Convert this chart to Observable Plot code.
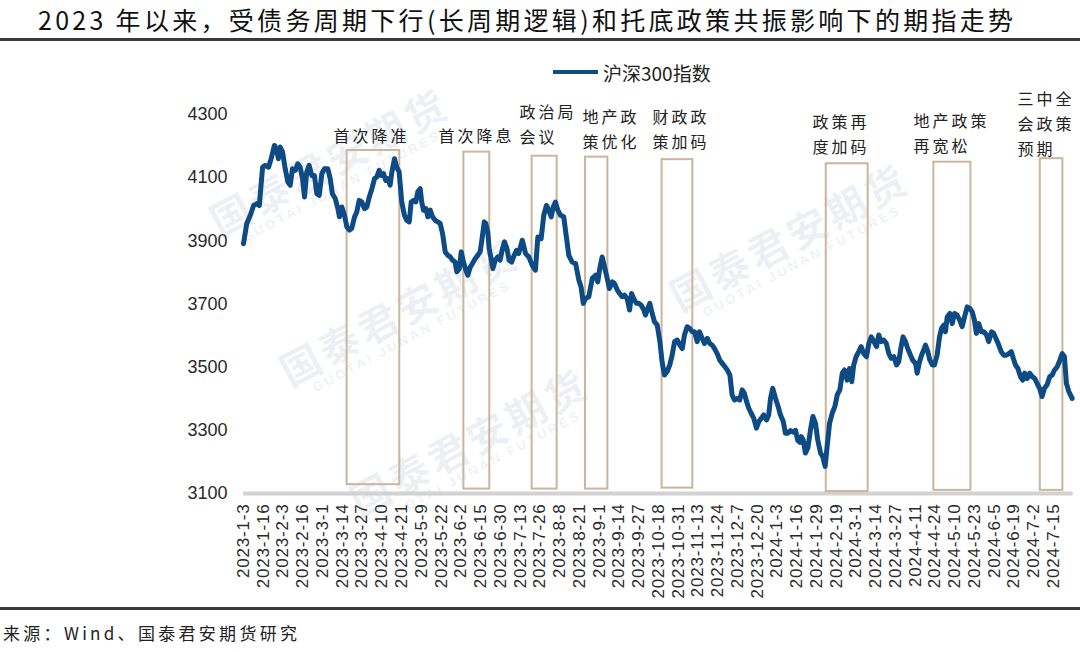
<!DOCTYPE html>
<html><head><meta charset="utf-8">
<script src="https://cdn.jsdelivr.net/npm/d3@7"></script>
<script src="https://cdn.jsdelivr.net/npm/@observablehq/plot@0.6"></script>
<style>
html,body{margin:0;padding:0;background:#fff;}
body{width:1080px;height:652px;position:relative;overflow:hidden;font-family:"Noto Sans CJK SC","Noto Sans",sans-serif;}
#title{position:absolute;left:38px;top:1px;font-size:25px;letter-spacing:3.3px;color:#111;white-space:nowrap;line-height:36px;}
.rule{position:absolute;left:0;width:1080px;height:3px;background:#3a3a3a;}
#legend{position:absolute;left:553px;top:58px;height:28px;display:flex;align-items:center;font-size:19px;color:#222;white-space:nowrap;}
#legend .sw{width:45px;height:4px;background:#0e4a84;margin-right:5px;}
#chart{position:absolute;left:0;top:45px;}
#source{position:absolute;left:3px;top:620px;font-size:17px;letter-spacing:3.3px;color:#222;white-space:nowrap;}
.wm{position:absolute;transform:rotate(-28deg);transform-origin:center;color:rgba(110,140,180,0.13);text-align:center;white-space:nowrap;line-height:1;}
.wm b{display:block;font-size:40px;font-weight:700;letter-spacing:4px;}
.wm i{display:block;font-style:normal;font-size:13px;letter-spacing:3px;font-family:"Liberation Sans",sans-serif;font-weight:700;margin-top:2px;}
</style></head>
<body>
<div class="wm" style="left:200px;top:140px"><b>国泰君安期货</b><i>GUOTAI JUNAN FUTURES</i></div>
<div class="wm" style="left:270px;top:290px"><b>国泰君安期货</b><i>GUOTAI JUNAN FUTURES</i></div>
<div class="wm" style="left:660px;top:215px"><b>国泰君安期货</b><i>GUOTAI JUNAN FUTURES</i></div>
<div class="wm" style="left:340px;top:420px"><b>国泰君安期货</b><i>GUOTAI JUNAN FUTURES</i></div>
<div id="title">2023 年以来，受债务周期下行(长周期逻辑)和托底政策共振影响下的期指走势</div>
<div class="rule" style="top:38px"></div>
<div id="legend"><div class="sw"></div><span>沪深300指数</span></div>
<div id="chart"></div>
<div class="rule" style="top:607px"></div>
<div id="source">来源：Wind、国泰君安期货研究</div>
<script>
// x-axis category labels (one every 9 trading days)
const tickLabels = ["2023-1-3","2023-1-16","2023-2-3","2023-2-16","2023-3-1","2023-3-14","2023-3-27","2023-4-10","2023-4-21","2023-5-9","2023-5-22","2023-6-2","2023-6-15","2023-6-30","2023-7-13","2023-7-26","2023-8-8","2023-8-21","2023-9-1","2023-9-14","2023-9-27","2023-10-18","2023-10-31","2023-11-13","2023-11-24","2023-12-7","2023-12-20","2024-1-3","2024-1-16","2024-1-29","2024-2-19","2024-3-1","2024-3-14","2024-3-27","2024-4-11","2024-4-24","2024-5-10","2024-5-23","2024-6-5","2024-6-19","2024-7-2","2024-7-15"];
const tickStep = 9;
const yTicks = [3100,3300,3500,3700,3900,4100,4300];

// CSI 300 series: trading-day index since 2023-1-3, close
const day = [0,1.5,3.1,4.6,6.1,7.2,8.7,9.9,11.4,12.6,14.1,15.2,15.9,16.7,17.8,19.0,20.2,21.3,22.3,23.6,24.7,25.8,26.9,27.8,28.8,29.9,31.1,32.3,33.4,34.5,35.7,36.9,38.4,39.5,40.5,41.8,43.0,43.7,44.8,46.0,47.1,48.3,49.3,50.6,51.6,52.7,53.9,55.1,56.2,57.3,58.5,59.7,60.7,61.8,62.7,63.8,64.8,65.7,66.8,67.6,68.8,69.8,70.9,72.1,73.3,74.4,75.5,76.4,77.4,78.5,79.4,80.5,81.2,82.0,83.1,84.0,85.1,86.1,87.3,88.5,89.6,90.7,91.9,93.1,94.2,95.2,96.4,97.2,98.3,99.2,100.2,101.3,102.2,103.3,104.3,105.6,106.7,107.8,108.6,109.7,110.4,111.3,111.9,112.8,113.6,114.7,115.9,116.9,118.0,118.9,120.0,121.0,122.2,123.1,124.4,125.4,127.0,128.5,130.0,131.5,133.0,134.1,135.6,136.8,138.0,139.1,140.2,141.1,142.1,143.2,144.4,145.9,147.2,148.2,149.7,151.3,152.8,153.8,154.8,155.8,157.3,158.9,160.4,161.4,162.3,163.4,164.5,165.7,166.7,168.0,169.0,170.3,171.4,172.5,173.6,174.8,175.9,176.8,177.8,179.0,180.1,181.2,182.4,183.1,184.2,185.1,186.2,187.2,188.5,189.7,190.7,191.8,193.0,194.2,195.3,196.4,197.6,198.8,199.9,200.9,202.1,203.3,204.4,205.5,206.7,207.7,209.0,210.0,211.3,212.4,213.5,214.6,215.8,217.0,218.1,219.3,220.4,221.6,222.6,223.7,224.9,226.1,227.2,228.2,229.2,230.2,231.3,232.5,233.7,234.8,235.9,237.0,238.3,239.3,240.1,241.1,242.4,243.6,244.6,245.9,246.9,248.0,249.2,250.4,251.5,252.5,253.5,254.1,255.0,256.0,257.1,258.3,259.4,260.6,261.6,262.9,263.9,265.0,265.9,267.0,268.2,269.4,270.5,271.7,272.8,273.8,275.0,276.1,277.1,278.0,279.1,280.3,281.4,282.6,283.8,284.9,286.0,287.2,288.4,289.4,290.5,291.7,292.9,294.0,295.1,296.3,297.5,298.5,299.6,300.5,301.6,302.6,303.9,304.9,306.2,306.9,308.0,308.9,309.9,310.7,311.8,312.7,313.8,314.8,316.0,317.1,318.0,319.0,319.8,320.6,321.8,322.9,323.9,325.1,326.3,327.4,328.5,329.7,330.9,332.0,333.0,333.9,335.0,336.1,337.3,338.5,339.5,340.8,341.8,343.1,344.1,345.2,346.4,347.6,348.7,349.8,350.7,351.7,352.8,354.0,355.0,355.9,357.0,358.2,359.3,360.5,361.5,362.7,363.8,364.9,366.1,367.3,368.4,369.5,370.7,371.9,373.0,374.0,374.9,376.0,377.5];
const close = [3891,3955,3981,4012,4018,4012,4133,4139,4133,4160,4202,4186,4160,4197,4181,4128,4086,4076,4128,4123,4144,4133,4097,4039,4118,4139,4107,4107,4049,4044,4113,4128,4128,4097,4049,4034,4002,3976,4007,3981,3944,3934,3939,3976,3991,4028,4023,4002,4007,4039,4065,4097,4102,4123,4107,4113,4091,4097,4076,4118,4160,4133,4118,4023,3981,3965,3960,4023,4028,4023,4055,4065,4023,3997,4002,3976,3997,3976,3965,3960,3955,3923,3865,3854,3849,3839,3833,3802,3812,3865,3833,3807,3791,3817,3828,3844,3854,3865,3902,3960,3955,3928,3876,3844,3812,3839,3849,3839,3876,3897,3876,3839,3833,3851,3870,3860,3902,3860,3849,3823,3807,3912,3907,3981,4012,3997,3976,4007,4023,3997,3981,3976,3907,3854,3833,3828,3775,3754,3702,3717,3723,3781,3791,3770,3812,3849,3817,3781,3749,3770,3765,3744,3733,3723,3728,3717,3681,3733,3717,3702,3702,3696,3681,3665,3686,3702,3670,3644,3633,3581,3517,3475,3486,3507,3538,3581,3586,3570,3559,3602,3628,3623,3612,3612,3581,3612,3591,3575,3591,3575,3570,3559,3543,3522,3512,3501,3491,3475,3412,3396,3401,3396,3428,3417,3391,3370,3354,3338,3307,3328,3338,3349,3333,3349,3401,3433,3401,3375,3349,3328,3291,3291,3299,3294,3300,3268,3262,3280,3270,3228,3244,3301,3344,3322,3270,3228,3217,3186,3249,3322,3354,3375,3412,3428,3481,3491,3459,3496,3454,3507,3533,3549,3565,3543,3533,3575,3596,3581,3565,3602,3581,3586,3575,3543,3528,3533,3507,3517,3565,3596,3581,3559,3538,3522,3512,3481,3517,3538,3554,3570,3549,3522,3507,3507,3538,3596,3623,3633,3612,3659,3670,3638,3670,3665,3649,3628,3659,3691,3686,3675,3649,3607,3638,3612,3612,3602,3581,3612,3607,3586,3570,3549,3538,3538,3543,3549,3528,3507,3496,3470,3459,3481,3464,3481,3470,3464,3449,3433,3407,3433,3444,3470,3475,3491,3501,3522,3543,3533,3449,3423,3401];

// policy windows (trading-day index) and box extent (index level)
const boxStart  = [47.2, 100.4, 131.5, 155.8, 190.7, 265.5, 314.5, 363.0];
const boxEnd    = [71.2, 112.2, 142.9, 166.0, 204.7, 284.6, 331.4, 373.3];
const boxTop    = [4186, 4181, 4168, 4165, 4157, 4144, 4149, 4160];
const boxBottom = [3128, 3114, 3114, 3114, 3117, 3106, 3110, 3110];

// annotation texts and anchors (trading-day index, index level)
const noteText = ["首次降准","首次降息","政治局\n会议","地产政\n策优化","财政政\n策加码","政策再\n度加码","地产政策\n再宽松","三中全\n会政策\n预期"];
const noteX = [41.0, 88.8, 125.7, 154.4, 186.3, 259.2, 305.2, 352.6];
const noteY = [4268, 4268, 4344, 4328, 4328, 4313, 4316, 4385];

const series = day.map((d, i) => ({day: d, close: close[i]}));
const boxes = boxStart.map((s, i) => ({start: s, end: boxEnd[i], top: boxTop[i], bottom: boxBottom[i]}));
const notes = noteText.map((t, i) => ({text: t, x: noteX[i], y: noteY[i]}));
const tickDays = tickLabels.map((_, i) => i * tickStep);

const chart = Plot.plot({
  width: 1080, height: 560,
  marginTop: 69, marginBottom: 112, marginLeft: 243, marginRight: 7.3,
  x: {domain: [0, 378], label: null},
  y: {domain: [3100, 4300], label: null},
  style: {fontFamily: '"Liberation Sans", Arial, sans-serif', fontSize: "17px", color: "#2a2a2a", background: "transparent", overflow: "visible"},
  marks: [
    Plot.ruleY([3100], {stroke: "#d2d2d2", strokeWidth: 4}),
    Plot.rect(boxes, {x1: "start", x2: "end", y1: "bottom", y2: "top", fill: "none", stroke: "#cbb59c", strokeWidth: 2}),
    Plot.line(series, {x: "day", y: "close", stroke: "#0e4a84", strokeWidth: 5, strokeLinejoin: "round", strokeLinecap: "round"}),
    Plot.axisY({ticks: yTicks, tickFormat: d3.format("d"), tickSize: 0, tickPadding: 16, fontSize: 18, label: null}),
    Plot.axisX({ticks: tickDays, tickFormat: d => tickLabels[Math.round(d / tickStep)], tickRotate: -90, tickSize: 0, tickPadding: 10, fontSize: 17, label: null}),
    Plot.text(notes, {x: "x", y: "y", text: "text", textAnchor: "start", lineAnchor: "top", lineHeight: 1.56, fontSize: 16, fill: "#222", fontFamily: '"Noto Sans CJK SC", sans-serif'})
  ]
});
document.getElementById("chart").appendChild(chart);
d3.select(chart).selectAll('g[aria-label="x-axis tick label"] text').style("letter-spacing", "0.8px");
d3.select(chart).selectAll('g[aria-label="text"] text').style("letter-spacing", "3px");
</script>
</body></html>
